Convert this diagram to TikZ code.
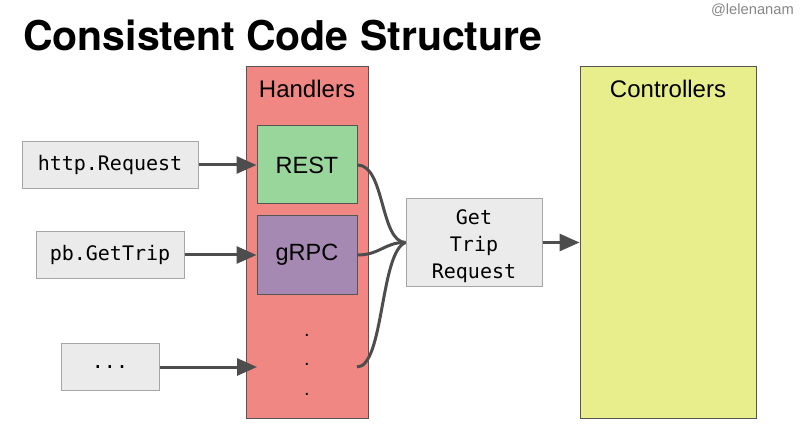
\documentclass[tikz,border=0pt]{standalone}
\usepackage{fontspec}
\setmainfont{Liberation Sans}
\newfontfamily\monof{DejaVu Sans Mono}
\newfontfamily\titlef{TeX Gyre Heros}
\usetikzlibrary{arrows.meta}
\definecolor{salmon}{HTML}{F08782}
\definecolor{restgreen}{HTML}{99D69C}
\definecolor{grpcpurple}{HTML}{A689B3}
\definecolor{ctrlyellow}{HTML}{E8EE8C}
\definecolor{boxgray}{HTML}{EBEBEB}
\definecolor{boxborder}{HTML}{A6A6A6}
\definecolor{arrowgray}{HTML}{4D4D4D}
\definecolor{darkborder}{HTML}{555555}
\tikzset{
  column/.style={draw=darkborder, line width=1pt, inner sep=0pt},
  handlerbox/.style={draw=darkborder, line width=1pt, inner sep=0pt, minimum width=100pt, minimum height=78pt, font=\fontsize{23.5}{24}\selectfont},
  inbox/.style={draw=boxborder, fill=boxgray, line width=1pt, inner sep=0pt, font=\monof\fontsize{20}{27}\selectfont},
  monotext/.style={inner sep=0pt, font=\monof\fontsize{20}{27}\selectfont},
  conn/.style={draw=arrowgray, line width=3pt},
  arr/.style={conn, -{Triangle[length=20pt,width=17pt]}},
  coltitle/.style={anchor=base, font=\fontsize{24}{24}\selectfont},
  dotmark/.style={font=\fontsize{20}{20}\selectfont, inner sep=0pt}
}
\begin{document}
\begin{tikzpicture}[x=1pt,y=-1pt]
\useasboundingbox[fill=white] (0,0) rectangle (800,430);

% title and handle
\node[anchor=base west, inner sep=0pt, font=\titlef\bfseries\fontsize{41}{41}\selectfont] (title) at (23,51) {Consistent Code Structure};
\node[anchor=base east, inner sep=0pt, text=black!47, font=\fontsize{14.7}{15}\selectfont] (handle) at (794,15) {@lelenanam};

% columns
\node[column, fill=salmon, minimum width=122pt, minimum height=351pt] (handlers) at (307,242.5) {};
\node[coltitle] (handlerstitle) at (307,98) {Handlers};
\node[column, fill=ctrlyellow, minimum width=176pt, minimum height=351pt] (controllers) at (668,242.5) {};
\node[coltitle] (controllerstitle) at (668,98) {Controllers};

% handlers
\node[handlerbox, fill=restgreen] (rest) at (307,165) {REST};
\node[handlerbox, fill=grpcpurple] (grpc) at (307,255) {gRPC};
\node[dotmark] (d1) at (307,335) {.};
\node[dotmark] (d2) at (307,364) {.};
\node[dotmark] (d3) at (307,394) {.};
\coordinate (dotsin) at (257,367);
\coordinate (dotsout) at (357,367);

% inputs
\node[inbox, minimum width=176pt, minimum height=47pt] (http) at (110,165) {http.Request};
\node[inbox, minimum width=148pt, minimum height=47pt] (pb) at (110,255) {pb.GetTrip};
\node[inbox, minimum width=98pt, minimum height=47pt] (more) at (110,367) {...};

% request
\node[inbox, minimum width=136pt, minimum height=88pt] (req) at (474,242.5) {};
\node[monotext, align=center] (reqtext) at (474,246) {Get\\Trip\\Request};

% arrows
\draw[arr] (http.east) -- (rest.west);
\draw[arr] (pb.east) -- (grpc.west);
\draw[arr] (more.east) -- (dotsin);
\draw[arr] (req.east) -- (req.east -| controllers.west);

% merging curves
\draw[conn] (rest.east) .. controls (385,165) and (380,242) .. (req.west);
\draw[conn] (grpc.east) .. controls (380,255) and (385,242) .. (req.west);
\draw[conn] (dotsout) .. controls (384,367) and (380,252) .. (req.west);
\end{tikzpicture}
\end{document}
